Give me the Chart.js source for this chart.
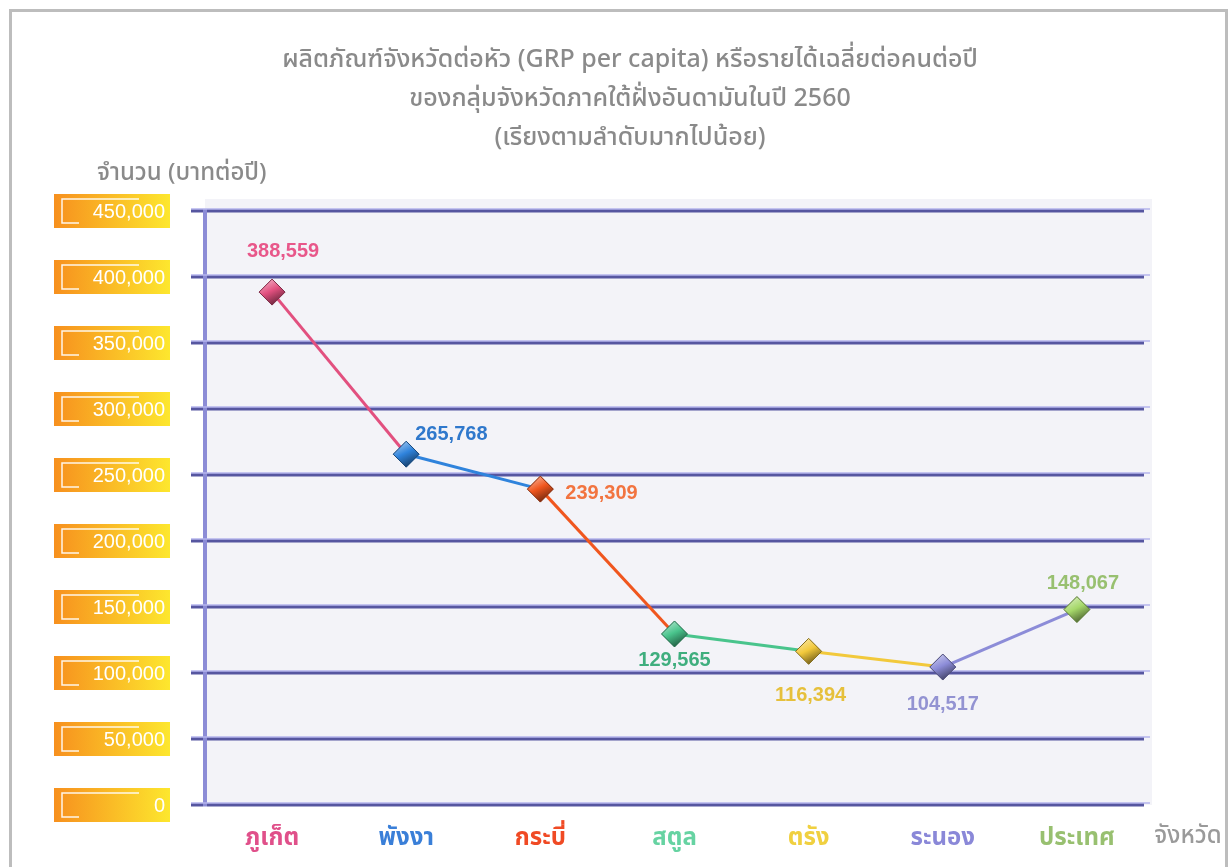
<!DOCTYPE html>
<html>
<head>
<meta charset="utf-8">
<script src="https://cdn.jsdelivr.net/npm/chart.js@4.4.1/dist/chart.umd.min.js"></script>
<style>
    html, body { margin: 0; padding: 0; background: #fff; overflow: hidden; }
    #frame { position: absolute; left: 9px; top: 9px; width: 1213px; height: 900px; border: 3px solid #bdbdbd; }
    #wrap { position: absolute; left: 0; top: 0; width: 1230px; height: 867px; }
</style>
</head>
<body>
<div id="frame"></div>
<div id="wrap"><canvas id="grpChart"></canvas></div>
<script>
// ข้อมูล GRP per capita ปี 2560
const provinces = ['ภูเก็ต', 'พังงา', 'กระบี่', 'สตูล', 'ตรัง', 'ระนอง', 'ประเทศ'];
const grpValues = [388559, 265768, 239309, 129565, 116394, 104517, 148067];
const yTicks = [0, 50000, 100000, 150000, 200000, 250000, 300000, 350000, 400000, 450000];
const titleLines = [
    'ผลิตภัณฑ์จังหวัดต่อหัว (GRP per capita) หรือรายได้เฉลี่ยต่อคนต่อปี',
    'ของกลุ่มจังหวัดภาคใต้ฝั่งอันดามันในปี 2560',
    '(เรียงตามลำดับมากไปน้อย)'
];
const yCaption = 'จำนวน (บาทต่อปี)';
const xCaption = 'จังหวัด';

const pointColors = ['#e2507f', '#2f83dc', '#f0561e', '#49c48c', '#f2c93c', '#8c8cd8', '#a6d86a'];
const labelColors = ['#e8578a', '#2f78cc', '#f27440', '#3fae7e', '#e6c03c', '#9393d2', '#98c070'];
const tickColors  = ['#e0508a', '#3a7fd8', '#f04a24', '#66d3a2', '#f0d040', '#8a88d8', '#98c070'];
// value label placement relative to its point: [dx, dy, align]
const labelPlace = [[11, -41, 'center'], [9, -20, 'left'], [25, 4, 'left'], [0, 27, 'center'],
                    [2, 44, 'center'], [0, 37, 'center'], [6, -26, 'center']];

const FONT = "'Noto Sans', 'Noto Sans Thai', 'Liberation Sans', sans-serif";
const NUMFONT = "'Liberation Sans', 'DejaVu Sans', sans-serif";

function shade(hex, amt) {
    let n = parseInt(hex.slice(1), 16);
    let r = (n >> 16) & 255, g = (n >> 8) & 255, b = n & 255;
    const f = v => Math.max(0, Math.min(255, Math.round(amt > 0 ? v + (255 - v) * amt : v * (1 + amt))));
    return `rgb(${f(r)},${f(g)},${f(b)})`;
}

const decorPlugin = {
    id: 'decor',
    beforeDraw(chart) {
        const { ctx, chartArea: a } = chart;
        ctx.save();
        ctx.fillStyle = '#f3f3f8';
        ctx.fillRect(a.left, a.top - 12, a.right - a.left + 8, a.bottom - a.top + 12);
        ctx.restore();
    },
    beforeDatasetsDraw(chart) {
        // light highlight on top of every grid bar
        const { ctx, chartArea: a, scales } = chart;
        ctx.save();
        ctx.strokeStyle = '#b4b4ec';
        ctx.lineWidth = 1.5;
        scales.y.ticks.forEach(t => {
            const y = scales.y.getPixelForValue(t.value);
            ctx.beginPath();
            ctx.moveTo(a.left - 14, y - 2);
            ctx.lineTo(a.right + 6, y - 2);
            ctx.stroke();
        });
        ctx.restore();
    },
    afterDatasetsDraw(chart) {
        const { ctx } = chart;
        const meta = chart.getDatasetMeta(0);
        ctx.save();
        meta.data.forEach((pt, i) => {
            const { x, y } = pt.getProps(['x', 'y'], true);
            const r = 13;
            const base = pointColors[i];
            const g = ctx.createLinearGradient(x - r / 2, y - r, x + r / 2, y + r);
            g.addColorStop(0, shade(base, 0.55));
            g.addColorStop(0.45, base);
            g.addColorStop(1, shade(base, -0.6));
            ctx.beginPath();
            ctx.moveTo(x, y - r);
            ctx.lineTo(x + r, y);
            ctx.lineTo(x, y + r);
            ctx.lineTo(x - r, y);
            ctx.closePath();
            ctx.fillStyle = g;
            ctx.fill();
            ctx.strokeStyle = shade(base, -0.45);
            ctx.lineWidth = 1;
            ctx.stroke();

            // value labels
            const [dx, dy, align] = labelPlace[i];
            ctx.font = `bold 20px ${NUMFONT}`;
            ctx.fillStyle = labelColors[i];
            ctx.textBaseline = 'middle';
            ctx.textAlign = align;
            ctx.fillText(grpValues[i].toLocaleString('en-US'), x + dx, y + dy);
        });
        ctx.restore();
    },
    afterDraw(chart) {
        const { ctx, chartArea: a, scales } = chart;
        ctx.save();
        // title
        ctx.fillStyle = '#8a8a8a';
        ctx.font = `500 25px ${FONT}`;
        ctx.textAlign = 'center';
        ctx.textBaseline = 'middle';
        titleLines.forEach((line, i) => ctx.fillText(line, 630, 60 + i * 39));
        // axis captions
        ctx.font = `500 24px ${FONT}`;
        ctx.textAlign = 'left';
        ctx.fillText(yCaption, 97, a.top - 38);
        ctx.fillStyle = '#9a9a9a';
        ctx.textAlign = 'center';
        ctx.fillText(xCaption, a.right + 44, a.bottom + 31);

        // y tick label boxes
        scales.y.ticks.forEach(t => {
            const y = scales.y.getPixelForValue(t.value);
            const bx = 54, bw = 116, bh = 34, by = y - bh / 2;
            const g = ctx.createLinearGradient(bx, 0, bx + bw, 0);
            g.addColorStop(0, '#f7901e');
            g.addColorStop(1, '#fde72e');
            ctx.fillStyle = g;
            ctx.fillRect(bx, by, bw, bh);
            ctx.strokeStyle = 'rgba(255,255,255,0.9)';
            ctx.lineWidth = 1.5;
            ctx.beginPath();
            ctx.moveTo(bx + 85, by + 5);
            ctx.lineTo(bx + 8, by + 5);
            ctx.lineTo(bx + 8, by + bh - 5);
            ctx.lineTo(bx + 25, by + bh - 5);
            ctx.stroke();
            ctx.fillStyle = '#fff';
            ctx.font = `20px ${NUMFONT}`;
            ctx.textAlign = 'right';
            ctx.textBaseline = 'middle';
            ctx.fillText(t.value.toLocaleString('en-US'), bx + bw - 5, y + 1);
        });
        ctx.restore();
    }
};

const chart = new Chart(document.getElementById('grpChart').getContext('2d'), {
    type: 'line',
    data: {
        labels: provinces,
        datasets: [{
            data: grpValues,
            borderWidth: 3,
            borderColor: pointColors[0],
            segment: {
                borderColor: ctx => pointColors[ctx.p0DataIndex]
            },
            pointStyle: 'rectRot',
            pointRadius: 13,
            pointBackgroundColor: pointColors,
            pointBorderWidth: 0,
            tension: 0,
            fill: false
        }]
    },
    options: {
        responsive: true,
        maintainAspectRatio: false,
        animation: false,
        layout: { padding: { left: 10, right: 86, top: 211, bottom: 0 } },
        plugins: {
            legend: { display: false },
            tooltip: { enabled: false }
        },
        scales: {
            x: {
                offset: true,
                grid: { display: false },
                border: { display: false },
                ticks: {
                    color: ctx => tickColors[ctx.index],
                    font: { family: FONT, size: 24, weight: 'bold' },
                    padding: 11
                },
                afterFit: s => { s.height = 62; }
            },
            y: {
                min: 0,
                max: 450000,
                afterBuildTicks: s => { s.ticks = yTicks.map(v => ({ value: v })); },
                ticks: { display: false },
                grid: {
                    color: '#5656a0',
                    lineWidth: 3.5,
                    tickLength: 14,
                    tickColor: '#5656a0'
                },
                border: { color: '#8c8cd6', width: 4 },
                afterFit: s => { s.width = 195; }
            }
        }
    },
    plugins: [decorPlugin]
});
</script>
</body>
</html>
